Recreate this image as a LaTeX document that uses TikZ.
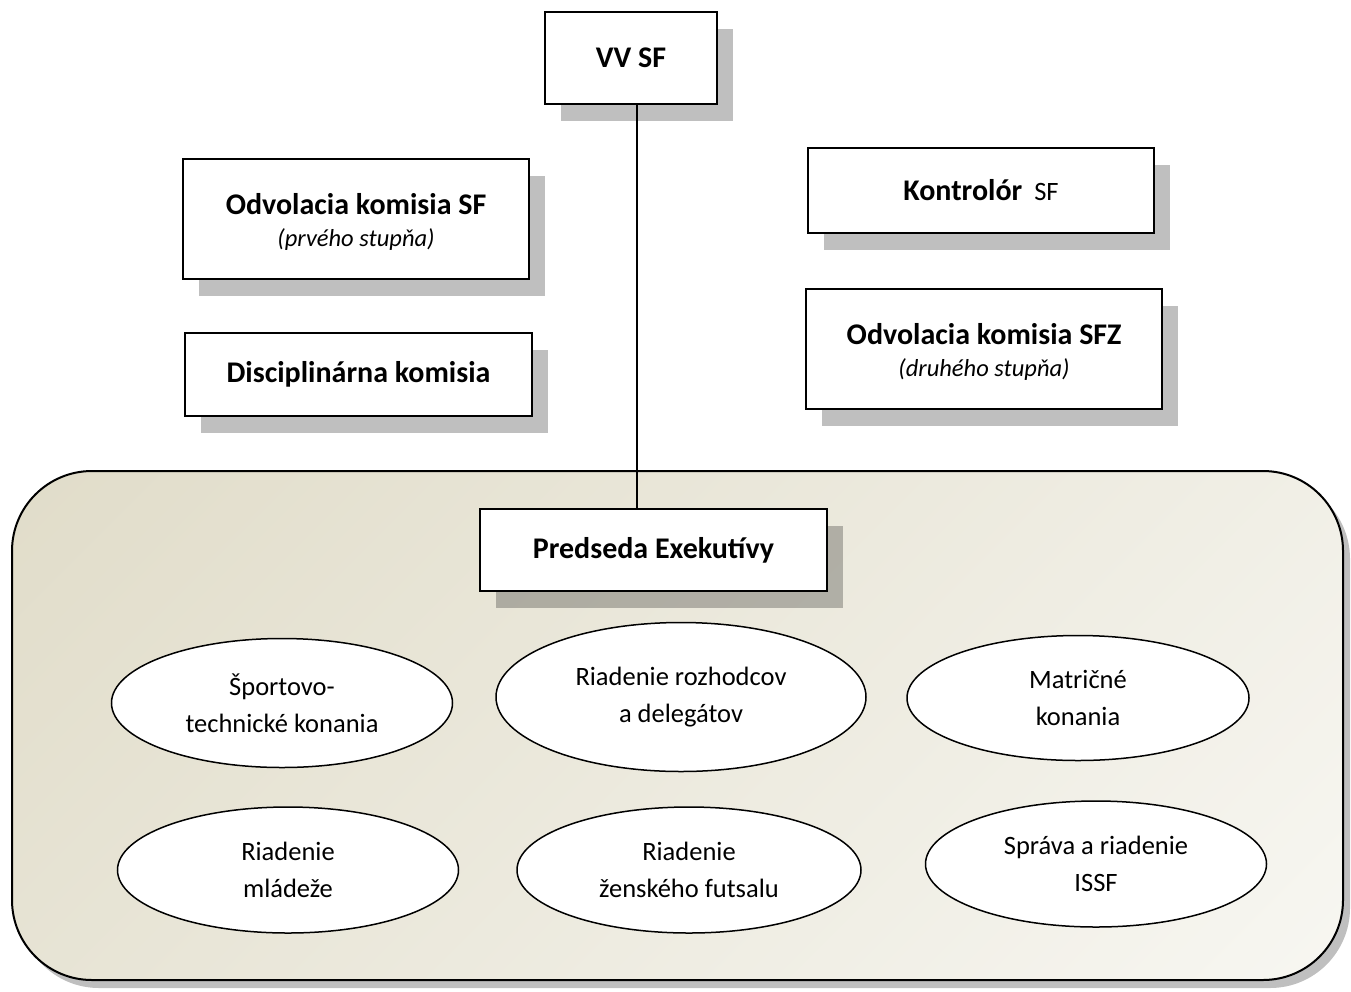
\documentclass[tikz,border=0pt]{standalone}
\usepackage{fontspec}
\setmainfont{Carlito}
\usetikzlibrary{shapes.geometric,shadows}
\definecolor{beige}{RGB}{220,215,193}
\definecolor{paper}{RGB}{252,252,250}
\pgfdeclareverticalshading{diagsh}{100bp}{color(0bp)=(paper); color(25bp)=(paper); color(75bp)=(beige); color(100bp)=(beige)}
\begin{document}
\begin{tikzpicture}[x=1pt,y=-1pt,
  shadowed/.style={drop shadow={shadow xshift=16pt,shadow yshift=-17pt,fill=black,opacity=0.25}},
  box/.style={rectangle,draw,line width=2pt,fill=white,inner sep=0pt,align=center,
    font=\fontsize{30}{34}\selectfont\bfseries,shadowed},
  oval/.style={ellipse,draw,line width=1.5pt,fill=white,inner sep=0pt,align=center,
    font=\fontsize{26.5}{37}\selectfont},
  bigbox/.style={rectangle,draw,line width=2pt,rounded corners=80pt,inner sep=0pt,
    fill=beige,
    path picture={\shade[shading=diagsh,shading angle=45]
      (path picture bounding box.center) ++(-920,-920) rectangle ++(1840,1840);},
    drop shadow={shadow xshift=7pt,shadow yshift=-8pt,fill=black,opacity=0.25}},
  conn/.style={draw,line width=1.8pt}]
\useasboundingbox (0,0) rectangle (1351,991);

\node[bigbox,minimum width=1331pt,minimum height=509pt] (exec) at (677.5,725.5) {};

\node[box,minimum width=172pt,minimum height=92pt] (vv) at (631,58) {VV SF};
\node[box,minimum width=346pt,minimum height=120pt] (oks) at (356,219)
  {\rule{0pt}{26pt}Odvolacia komisia SF\\[-2pt]{\mdseries\itshape\fontsize{24.5}{34}\selectfont (prvého stupňa)}};
\node[box,minimum width=347pt,minimum height=83pt] (dk) at (358.5,374.5) {Disciplinárna komisia};
\node[box,minimum width=346pt,minimum height=85pt] (kon) at (981,190.5)
  {Kontrolór\hspace{12pt}{\mdseries\fontsize{26.5}{34}\selectfont SF}};
\node[box,minimum width=356pt,minimum height=120pt] (oksfz) at (984,349)
  {\rule{0pt}{26pt}Odvolacia komisia SFZ\\[-2pt]{\mdseries\itshape\fontsize{24.5}{34}\selectfont (druhého stupňa)}};
\node[box,minimum width=347pt,minimum height=82pt] (pred) at (653.5,550) {Predseda Exekutívy};

\node[oval,minimum width=341pt,minimum height=129pt] (e1) at (282,703) {Športovo-\\technické konania};
\node[oval,minimum width=370pt,minimum height=149pt] (e2) at (681,697) {Riadenie rozhodcov\\a delegátov};
\node[oval,minimum width=342pt,minimum height=125pt] (e3) at (1078,698) {Matričné\\konania};
\node[oval,minimum width=341pt,minimum height=126pt] (e4) at (288,870) {Riadenie\\mládeže};
\node[oval,minimum width=344pt,minimum height=126pt] (e5) at (689,870) {Riadenie\\ženského futsalu};
\node[oval,minimum width=341pt,minimum height=126pt] (e6) at (1096,864) {Správa a riadenie\\ISSF};

\coordinate (lx) at (637,0);
\draw[conn] (vv.south -| lx) -- (pred.north -| lx);
\end{tikzpicture}
\end{document}
